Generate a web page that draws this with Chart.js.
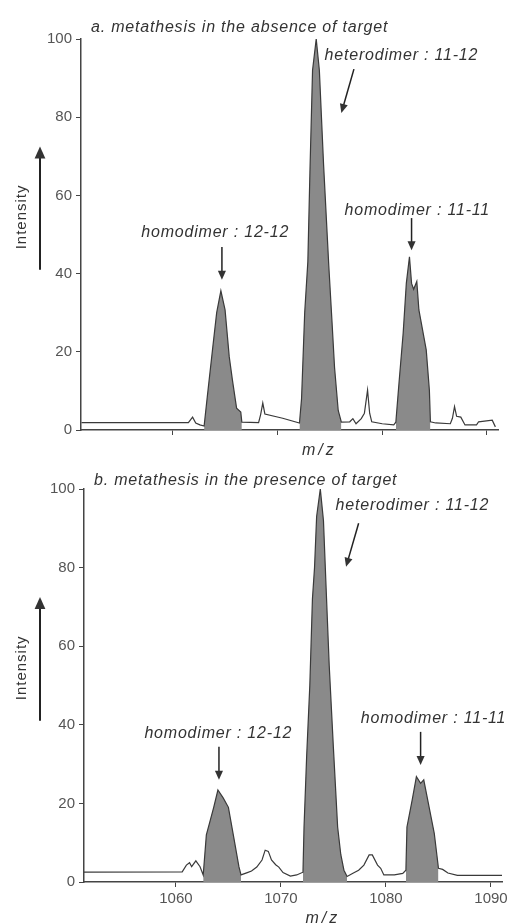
<!DOCTYPE html>
<html>
<head>
<meta charset="utf-8">
<script src="https://cdn.jsdelivr.net/npm/chart.js@4"></script>
<style>
  html, body { margin: 0; padding: 0; background: #fff; }
  .panel { position: absolute; left: 0; width: 511px; height: 462px; }
</style>
</head>
<body>
<div class="panel" style="top:0"><canvas id="chartA" width="511" height="462"></canvas></div>
<div class="panel" style="top:462px"><canvas id="chartB" width="511" height="462"></canvas></div>
<script>
// spectrum a: m/z and relative intensity (%)
const mzA = [1051.3, 1058.0, 1061.5, 1061.9, 1062.2, 1062.6, 1063.0, 1063.3, 1063.8, 1064.2, 1064.6, 1065.0,
  1065.4, 1065.7, 1066.1, 1066.5, 1066.6, 1068.2, 1068.4, 1068.6, 1068.8, 1070.5, 1072.1, 1072.3, 1072.6,
  1072.9, 1073.1, 1073.35, 1073.7, 1074.0, 1074.4, 1074.9, 1075.2, 1075.45, 1075.8, 1076.1, 1076.9, 1077.2,
  1077.5, 1078.0, 1078.3, 1078.6, 1078.8, 1079.0, 1080.0, 1081.1, 1081.3, 1081.6, 1082.0, 1082.3, 1082.6,
  1082.8, 1083.0, 1083.3, 1083.5, 1084.2, 1084.5, 1084.6, 1085.1, 1086.5, 1086.7, 1086.9, 1087.1, 1087.5,
  1087.9, 1089.0, 1089.2, 1090.5, 1090.8];
const intA = [1.9, 1.9, 1.9, 3.3, 1.8, 1.3, 1.0, 8.4, 20.5, 30, 35.6, 30.7,
  18.7, 12.8, 5.6, 4.6, 2.0, 1.9, 4.0, 6.9, 4.1, 3.0, 1.8, 8, 30,
  43, 66, 92, 100, 92, 68, 42, 28, 16, 5, 2.0, 2.1, 2.9,
  1.6, 2.9, 4.3, 10.2, 4.3, 2.1, 1.6, 1.3, 2, 12, 24.8, 37.5, 44.3,
  37.5, 36, 38, 30.7, 20.5, 10.2, 2.1, 1.8, 1.6, 3, 6, 3.5, 3.3,
  1.3, 1.3, 2.1, 2.5, 0.8];

// spectrum b
const mzB = [1051.2, 1060.6, 1061.0, 1061.3, 1061.5, 1061.9, 1062.3, 1062.6, 1062.9, 1063.2, 1063.6, 1064.0,
  1064.5, 1065.0, 1065.5, 1066.0, 1066.2, 1066.8, 1067.2, 1067.7, 1068.2, 1068.5, 1068.8, 1069.1, 1069.5,
  1069.8, 1070.2, 1070.9, 1071.5, 1072.1, 1072.2, 1072.45, 1072.75, 1073.0, 1073.2, 1073.4, 1073.75, 1074.05,
  1074.3, 1074.6, 1075.0, 1075.4, 1075.7, 1076.0, 1076.3, 1076.9, 1077.4, 1077.9, 1078.4, 1078.7, 1079.2,
  1079.5, 1079.8, 1080.8, 1081.6, 1081.9, 1082.0, 1082.5, 1082.9, 1083.3, 1083.6, 1084.1, 1084.6, 1085.0,
  1085.4, 1085.9, 1086.8, 1091.1];
const intB = [2.5, 2.6, 4.3, 4.9, 3.9, 5.4, 3.9, 1.8, 12, 15, 19, 23.4,
  21.4, 19, 11.5, 3.9, 1.8, 2.4, 2.8, 3.8, 5.6, 8.1, 7.8, 5.6, 4.4,
  3.8, 2.4, 1.5, 1.8, 2.5, 14, 32, 50, 72, 80, 93, 100, 92,
  75, 55, 34, 14, 7, 3, 1.4, 2.3, 3.0, 4.3, 6.9, 6.9, 4.3,
  3.5, 1.8, 1.8, 2.2, 3.0, 14, 20.9, 26.8, 25.1, 26, 19.2, 12.4, 3.5,
  3.2, 2.3, 1.7, 1.7];

// shaded peak windows (m/z)
const peaksA = [[1062.9, 1066.7], [1072.0, 1076.2], [1081.2, 1084.7]];
const peaksB = [[1062.6, 1066.2], [1072.1, 1076.3], [1081.9, 1085.0]];

const xTicks = [1060, 1070, 1080, 1090];
const yTicks = [0, 20, 40, 60, 80, 100];
const peakLabels = ['heterodimer : 11-12', 'homodimer : 11-11', 'homodimer : 12-12'];

const FONT = '"Liberation Sans", Arial, sans-serif';
const INK = '#333';

// label anchors in data units: [textX, textY, arrowFromX, arrowFromY, arrowToX, arrowToY]
const panels = [
  { id: 'chartA', title: 'a. metathesis in the absence of target', mz: mzA, inten: intA, peaks: peaksA,
    left: 81, right: 498, top: 39, bottom: 430, titleY: 32, tickLabels: false, xLabelY: 455,
    notes: [[1074.5, 94.6, 1077.3, 92.3, 1076.1, 81.1],
            [1076.4, 55, 1082.8, 54.2, 1082.8, 46],
            [1057.0, 49.4, 1064.7, 46.8, 1064.7, 38.4]] },
  { id: 'chartB', title: 'b. metathesis in the presence of target', mz: mzB, inten: intB, peaks: peaksB,
    left: 84, right: 502, top: 27, bottom: 420, titleY: 23, tickLabels: true, xLabelY: 461,
    notes: [[1075.2, 94.7, 1077.4, 91.3, 1076.2, 80.2],
            [1077.6, 40.5, 1083.3, 38.2, 1083.3, 29.8],
            [1057.0, 36.6, 1064.1, 34.4, 1064.1, 26]] }
];

function arrow(ctx, x1, y1, x2, y2, head) {
  const a = Math.atan2(y2 - y1, x2 - x1);
  ctx.beginPath();
  ctx.moveTo(x1, y1);
  ctx.lineTo(x2 - Math.cos(a) * head * 0.6, y2 - Math.sin(a) * head * 0.6);
  ctx.stroke();
  ctx.beginPath();
  ctx.moveTo(x2, y2);
  ctx.lineTo(x2 - head * Math.cos(a) + head * 0.45 * Math.sin(a), y2 - head * Math.sin(a) - head * 0.45 * Math.cos(a));
  ctx.lineTo(x2 - head * Math.cos(a) - head * 0.45 * Math.sin(a), y2 - head * Math.sin(a) + head * 0.45 * Math.cos(a));
  ctx.closePath();
  ctx.fill();
}

function makeChart(p) {
  const pts = p.mz.map((x, i) => ({ x: x, y: p.inten[i] }));
  const datasets = [{
    data: pts, borderColor: '#3a3a3a', borderWidth: 1.2, pointRadius: 0, fill: false, tension: 0
  }];
  p.peaks.forEach(r => {
    datasets.push({
      data: pts.filter(pt => pt.x >= r[0] && pt.x <= r[1]),
      borderWidth: 0, borderColor: 'rgba(0,0,0,0)', backgroundColor: '#8a8a8a',
      pointRadius: 0, fill: 'origin', tension: 0
    });
  });

  const notesPlugin = {
    id: 'notes',
    afterDraw(chart) {
      const ctx = chart.ctx, xs = chart.scales.x, ys = chart.scales.y;
      ctx.save();
      ctx.fillStyle = INK;
      ctx.strokeStyle = '#222';
      ctx.lineWidth = 1.5;
      ctx.font = 'italic 16px ' + FONT;
      ctx.letterSpacing = '0.8px';
      ctx.textBaseline = 'alphabetic';
      ctx.textAlign = 'left';
      ctx.fillText(p.title, p.left + 10, p.titleY);
      p.notes.forEach((n, i) => {
        ctx.fillText(peakLabels[i], xs.getPixelForValue(n[0]), ys.getPixelForValue(n[1]));
        arrow(ctx, xs.getPixelForValue(n[2]), ys.getPixelForValue(n[3]),
          xs.getPixelForValue(n[4]), ys.getPixelForValue(n[5]), 9);
      });
      // m/z label
      ctx.letterSpacing = '3px';
      ctx.textAlign = 'center';
      ctx.fillText('m/z', xs.getPixelForValue(1074), p.xLabelY);
      // Intensity label with arrow
      ctx.letterSpacing = '1px';
      ctx.font = '15px ' + FONT;
      ctx.translate(22, ys.getPixelForValue(54.5));
      ctx.rotate(-Math.PI / 2);
      ctx.textBaseline = 'middle';
      ctx.fillText('Intensity', 0, 0);
      ctx.setTransform(1, 0, 0, 1, 0, 0);
      ctx.lineWidth = 2;
      arrow(ctx, 40, ys.getPixelForValue(41), 40, ys.getPixelForValue(72.5), 12);
      ctx.restore();
    }
  };

  return new Chart(document.getElementById(p.id), {
    type: 'line',
    data: { datasets: datasets },
    options: {
      responsive: false,
      animation: false,
      devicePixelRatio: 1,
      layout: { padding: { left: 0, right: 511 - p.right, top: p.top, bottom: 0 } },
      plugins: { legend: { display: false }, tooltip: { enabled: false } },
      scales: {
        x: {
          type: 'linear', min: 1051.25, max: 1091.05,
          afterBuildTicks: s => { s.ticks = xTicks.map(v => ({ value: v })); },
          afterFit: s => { s.height = 462 - p.bottom; },
          border: { display: true, color: '#444', width: 1.5 },
          grid: { drawOnChartArea: false, drawTicks: true, tickLength: 5, color: '#444' },
          ticks: { display: p.tickLabels, color: '#555', padding: 3, maxRotation: 0,
            callback: v => String(v),
            font: { family: FONT, size: 15 } }
        },
        y: {
          min: 0, max: 100,
          afterBuildTicks: s => { s.ticks = yTicks.map(v => ({ value: v })); },
          afterFit: s => { s.width = p.left; },
          border: { display: true, color: '#444', width: 1.5 },
          grid: { drawOnChartArea: false, drawTicks: true, tickLength: 5, color: '#444' },
          ticks: { color: '#555', padding: 4, callback: v => String(v),
            font: { family: FONT, size: 15 } }
        }
      }
    },
    plugins: [notesPlugin]
  });
}

panels.forEach(makeChart);
</script>
</body>
</html>
